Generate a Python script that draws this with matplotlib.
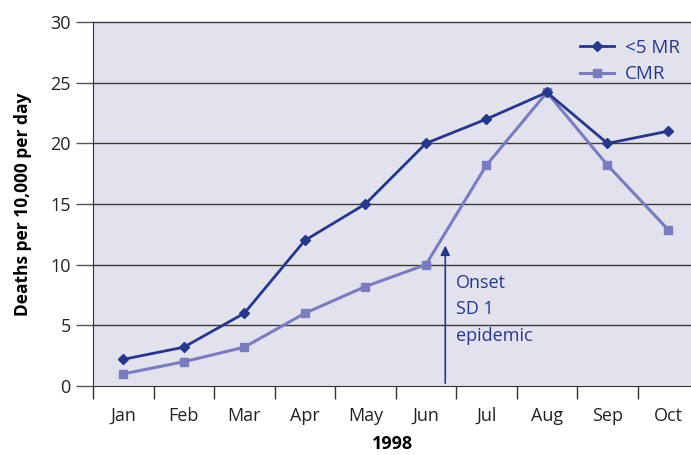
import matplotlib.pyplot as plt

plt.rcParams['font.family'] = ['Open Sans', 'DejaVu Sans']

months = ["Jan", "Feb", "Mar", "Apr", "May", "Jun", "Jul", "Aug", "Sep", "Oct"]
under5_mr = [2.2, 3.2, 6.0, 12.0, 15.0, 20.0, 22.0, 24.2, 20.0, 21.0]
cmr = [1.0, 2.0, 3.2, 6.0, 8.2, 10.0, 18.2, 24.2, 18.2, 12.9]
onset_x = 5.32
onset_y = 11.8

dark = "#27388a"
light = "#7a7dbd"

fig = plt.figure(figsize=(6.91, 4.55), dpi=100)
ax = fig.add_axes([0.1346, 0.1516, 0.8654, 0.8], facecolor="#e2e2ef")

x = list(range(len(months)))
ax.plot(x, under5_mr, color=dark, lw=2, marker="D", ms=5.5, label="<5 MR", zorder=4)
ax.plot(x, cmr, color=light, lw=2.2, marker="s", ms=5.5, label="CMR", zorder=3)

# horizontal grid (top line included)
for v in range(5, 31, 5):
    ax.axhline(v, color="#3a3a3a", lw=1, zorder=1, clip_on=False)

ax.annotate("", xy=(onset_x, onset_y), xytext=(onset_x, 0),
            arrowprops=dict(arrowstyle="-|>", color=dark, lw=1.2, mutation_scale=14),
            zorder=5)
ax.text(onset_x + 0.18, 9.25, "Onset\nSD 1\nepidemic", color=dark, fontsize=13,
        va="top", ha="left", linespacing=1.6)

ax.set_xlim(-0.5, 9.38)
ax.set_ylim(0, 30)
ax.set_yticks(range(0, 31, 5))
ax.set_xticks([i - 0.5 for i in range(10)], minor=False)
ax.set_xticklabels([])
ax.set_xticks(x, minor=True)
ax.set_xticklabels(months, minor=True)
ax.tick_params(axis="x", which="major", length=9.5, width=1, color="#333333", direction="out")
ax.tick_params(axis="x", which="minor", length=0, pad=15, labelsize=13, labelcolor="#222222")
ax.tick_params(axis="y", length=12, width=1, color="#555555", labelsize=13,
               labelcolor="#222222", pad=4)

for s in ["top", "right"]:
    ax.spines[s].set_visible(False)
ax.spines["left"].set_color("#333333")
ax.spines["bottom"].set_color("#333333")
ax.spines["bottom"].set_zorder(6)

ax.set_ylabel("Deaths per 10,000 per day", fontsize=12.5, fontweight="bold", labelpad=13)
ax.set_xlabel("1998", fontsize=13, fontweight="bold", labelpad=7)

leg = ax.legend(loc="upper right", bbox_to_anchor=(1.01, 1.0), frameon=False,
                fontsize=13.5, handlelength=1.8, labelspacing=0.45, handletextpad=0.6)
for t in leg.get_texts():
    t.set_color(dark)

fig.savefig("out.png", dpi=100)
